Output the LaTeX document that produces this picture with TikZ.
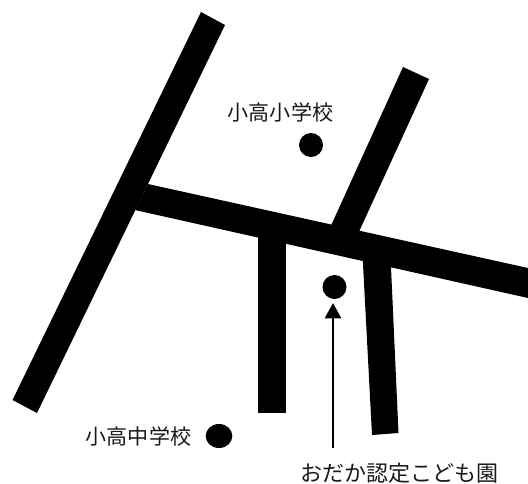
\documentclass[tikz,border=0pt]{standalone}
\usepackage{fontspec}
\newfontfamily\cjk{Noto Sans CJK JP}
\usetikzlibrary{arrows.meta,shapes.geometric}
\tikzset{x=0.75pt,y=-0.75pt,
  road/.style={fill=black,draw=none},
  spot/.style={fill=black,draw=none,ellipse,inner sep=0pt},
  lbl/.style={font=\cjk\fontsize{15.8pt}{18pt}\selectfont,inner sep=0pt,text=black!90},
  lblb/.style={font=\cjk\fontsize{16.5pt}{18pt}\selectfont,inner sep=0pt,text=black!90}}
\begin{document}
\begin{tikzpicture}
\useasboundingbox (0,0) rectangle (528,483);
\fill[road] (201,12) -- (225,25) -- (37,413) -- (12.5,400) -- cycle;
\fill[road] (148,184) -- (528,268) -- (528,298) -- (135,210) -- cycle;
\fill[road] (403,67) -- (429,79) -- (357,236) -- (329,230) -- cycle;
\fill[road] (257.5,225) -- (285.5,225) -- (285.5,413) -- (257.5,413) -- cycle;
\fill[road] (362,245) -- (390,245) -- (398.5,433) -- (372,435) -- cycle;
\node[spot,minimum width=18pt,minimum height=18pt] (a) at (311,145) {};
\node[spot,minimum width=18pt,minimum height=18pt] (b) at (334.5,287) {};
\node[spot,minimum width=20pt,minimum height=18pt] (c) at (219,436) {};
\node[lbl] (la) at (280.5,112) {小高小学校};
\node[lbl] (lc) at (138.5,436) {小高中学校};
\node[lblb] (lb) at (399,473) {おだか認定こども園};
\coordinate (s) at (333,448);
\coordinate (t) at (333,303);
\draw[line width=2pt,-{Triangle[length=11.5pt,width=12pt]}] (s) -- (t);
\end{tikzpicture}
\end{document}
